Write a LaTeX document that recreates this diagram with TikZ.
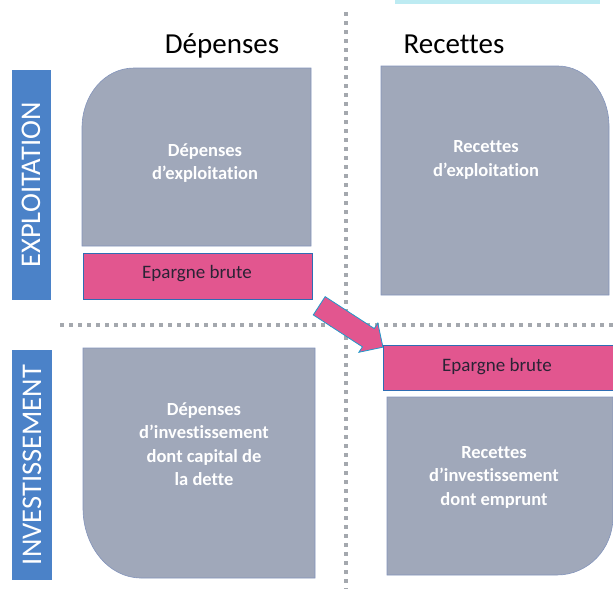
\documentclass[tikz,border=0pt]{standalone}
\usepackage{fontspec}
\setmainfont{Carlito}[Ligatures=CommonOff]
\usetikzlibrary{shapes.arrows}
\definecolor{boxgray}{HTML}{A0A8BA}
\definecolor{boxedge}{HTML}{8394BC}
\definecolor{pinkbox}{HTML}{E2568F}
\definecolor{pinkedge}{HTML}{2E6DB4}
\definecolor{labelblue}{HTML}{4B82C8}
\definecolor{darktext}{HTML}{2B2335}
\definecolor{dotgray}{HTML}{A4A8AE}
\definecolor{topcyan}{HTML}{BDEBF2}
\begin{document}
\begin{tikzpicture}[x=1pt,y=-1pt,
  grayshape/.style={fill=boxgray,draw=boxedge,line width=0.6pt},
  graytext/.style={text=white,font=\fontsize{18.5}{23.5}\selectfont\bfseries,align=center},
  pinkrect/.style={fill=pinkbox,draw=pinkedge,line width=1pt},
  pinktext/.style={text=darktext,font=\fontsize{19}{23}\selectfont},
  sidelabel/.style={fill=labelblue,text=white,font=\fontsize{28.5}{30}\selectfont,rotate=90,inner sep=0pt,anchor=center},
  header/.style={font=\fontsize{29}{33}\selectfont,text=black},
  dotline/.style={draw=dotgray,line width=4.5pt,dash pattern=on 3.5pt off 5.5pt},
  bigarrow/.style={single arrow,fill=pinkbox,draw=pinkedge!70!cyan,line width=0.8pt,
    minimum height=76pt,inner sep=10.5pt,single arrow head extend=6.5pt,rotate=-33}
]
\useasboundingbox (0,0) rectangle (613,589);
\fill[topcyan] (395,0) rectangle (600,4);

% dotted dividers
\coordinate (vt) at (346,12);
\coordinate (vb) at (346,589);
\coordinate (hl) at (60,325);
\coordinate (hr) at (613,325);
\draw[dotline] (vt) -- (vb);
\draw[dotline] (hl) -- (hr);

% headers
\node[header] (hdep) at (222,46) {Dépenses};
\node[header] (hrec) at (454,44) {Recettes};

% side labels
\node[sidelabel,minimum width=230pt,minimum height=39pt] (lexp) at (31,185) {EXPLOITATION};
\node[sidelabel,minimum width=230pt,minimum height=40pt] (linv) at (32,465) {INVESTISSEMENT};

% gray shapes
\path[grayshape] (82,246) -- (82,128) .. controls (82,94.9) and (104.7,68) .. (134,68) -- (311,68) -- (311,246) -- cycle;
\path[grayshape] (381,66) -- (558,66) .. controls (585.6,66) and (609,92.9) .. (609,126) -- (609,295) -- (381,295) -- cycle;
\path[grayshape] (83,348) -- (315,348) -- (315,578) -- (141,578) .. controls (109,578) and (83,546.7) .. (83,508) -- cycle;
\path[grayshape] (387,397) -- (613,397) -- (613,517) .. controls (613,549) and (588,575) .. (557,575) -- (387,575) -- cycle;

\node[graytext] (dexp) at (205,163) {Dépenses\\d’exploitation};
\node[graytext] (rexp) at (486,160) {Recettes\\d’exploitation};
\node[graytext] (dinv) at (204,444) {Dépenses\\d’investissement\\dont capital de\\la dette};
\node[graytext] (rinv) at (494,477) {Recettes\\d’investissement\\dont emprunt};

% pink boxes
\path[pinkrect] (83,253) rectangle (312,299);
\node[pinktext] (eb1) at (197,274) {Epargne brute};
\path[pinkrect] (383,345) rectangle (614,390);
\node[pinktext] (eb2) at (497,367) {Epargne brute};

% arrow
\node[bigarrow] (arr) at (346.5,323.5) {};
\end{tikzpicture}
\end{document}
